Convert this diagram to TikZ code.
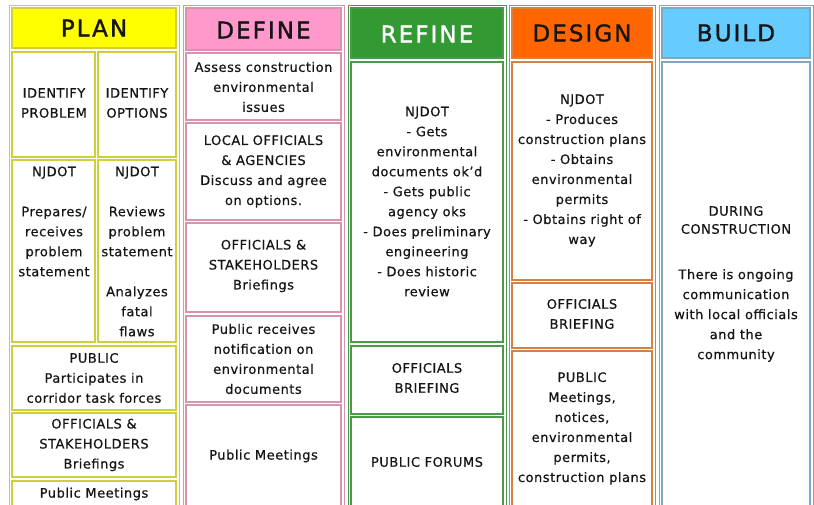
\documentclass[tikz,border=0pt]{standalone}
\usepackage{fontspec}
\setmainfont{DejaVu Sans}[LetterSpace=4, FakeBold=0.6]
\newfontfamily\headfont{DejaVu Sans}[LetterSpace=9, FakeBold=1.4]
\definecolor{planfill}{HTML}{FFFF00}
\definecolor{planline}{HTML}{CFCF3A}
\definecolor{definefill}{HTML}{FF99CC}
\definecolor{defineline}{HTML}{D993AE}
\definecolor{refinefill}{HTML}{339933}
\definecolor{refineline}{HTML}{4A9A4A}
\definecolor{designfill}{HTML}{FF6600}
\definecolor{designline}{HTML}{D9803F}
\definecolor{buildfill}{HTML}{66CCFF}
\definecolor{buildline}{HTML}{7FA7C0}
\definecolor{textgray}{HTML}{151515}
\tikzset{cell/.style={line width=1.4pt}}
\tikzset{outer/.style={line width=0.8pt}}
\tikzset{txt/.style={align=center, inner sep=0pt, text=textgray, font=\fontsize{13}{20}\selectfont}}
\tikzset{head/.style={inner sep=0pt, text=textgray, font=\headfont\fontsize{23}{23}\selectfont}}

\begin{document}
\begin{tikzpicture}[x=1pt,y=-1pt]

\useasboundingbox (0,0) rectangle (814,505);
\clip (0,0) rectangle (814,505);

% PLAN
\draw[outer, planline] (9,5) rectangle (179,515);
\draw[cell, planline, fill=planfill] (12,8) rectangle (176,48);
\draw[cell, planline] (12,52) rectangle (95,157);
\draw[cell, planline] (98,52) rectangle (176,157);
\draw[cell, planline] (12,160) rectangle (95,342);
\draw[cell, planline] (98,160) rectangle (176,342);
\draw[cell, planline] (12,346) rectangle (176,410);
\draw[cell, planline] (12,413) rectangle (176,477);
\draw[cell, planline] (12,481) rectangle (176,515);

\node[head] (plan) at (94,28) {PLAN};
\node[txt] (idprob) at (54,103) {IDENTIFY\\PROBLEM};
\node[txt] (idopt) at (137,103) {IDENTIFY\\OPTIONS};
\node[txt] (planprep) at (54,221.5) {NJDOT\\[20pt]Prepares/\\receives\\problem\\statement};
\node[txt] (planrev) at (137,251.5) {NJDOT\\[20pt]Reviews\\problem\\statement\\[20pt]Analyzes\\fatal\\flaws};
\node[txt] (planpub) at (94,378) {PUBLIC\\Participates in\\corridor task forces};
\node[txt] (planoff) at (94,445) {OFFICIALS \&\\STAKEHOLDERS\\Briefings};
\node[txt] (planmeet) at (94,494) {Public Meetings};

% DEFINE
\draw[outer, defineline] (183,5) rectangle (344,515);
\draw[cell, defineline, fill=definefill] (186,8) rectangle (341,50);
\draw[cell, defineline] (186,53) rectangle (341,120);
\draw[cell, defineline] (186,123) rectangle (341,220);
\draw[cell, defineline] (186,223) rectangle (341,312);
\draw[cell, defineline] (186,316) rectangle (341,402);
\draw[cell, defineline] (186,405) rectangle (341,515);

\node[head] (define) at (263.5,30) {DEFINE};
\node[txt] (defassess) at (263.5,87) {Assess construction\\environmental\\issues};
\node[txt] (deflocal) at (263.5,171.5) {LOCAL OFFICIALS\\\& AGENCIES\\Discuss and agree\\on options.};
\node[txt] (defoff) at (263.5,266) {OFFICIALS \&\\STAKEHOLDERS\\Briefings};
\node[txt] (defnotif) at (263.5,359) {Public receives\\notification on\\environmental\\documents};
\node[txt] (defmeet) at (263.5,456) {Public Meetings};

% REFINE
\draw[outer, refineline] (348,5) rectangle (506,515);
\draw[cell, refineline, fill=refinefill] (351,8) rectangle (503,58);
\draw[cell, refineline] (351,62) rectangle (503,342);
\draw[cell, refineline] (351,346) rectangle (503,414);
\draw[cell, refineline] (351,417) rectangle (503,515);

\node[head, text=white] (refine) at (427,34) {REFINE};
\node[txt] (refnjdot) at (427,201.5) {NJDOT\\- Gets\\environmental\\documents ok'd\\- Gets public\\agency oks\\- Does preliminary\\engineering\\- Does historic\\review};
\node[txt] (refbrief) at (427,378) {OFFICIALS\\BRIEFING};
\node[txt] (refforum) at (427,462) {PUBLIC FORUMS};

% DESIGN
\draw[outer, designline] (509,5) rectangle (655,515);
\draw[cell, designline, fill=designfill] (512,8) rectangle (652,58);
\draw[cell, designline] (512,62) rectangle (652,280);
\draw[cell, designline] (512,283) rectangle (652,348);
\draw[cell, designline] (512,351) rectangle (652,515);

\node[head] (design) at (582,33) {DESIGN};
\node[txt] (desnjdot) at (582,170.5) {NJDOT\\- Produces\\construction plans\\- Obtains\\environmental\\permits\\- Obtains right of\\way};
\node[txt] (desbrief) at (582,314) {OFFICIALS\\BRIEFING};
\node[txt] (despub) at (582,428.5) {PUBLIC\\Meetings,\\notices,\\environmental\\permits,\\construction plans};

% BUILD
\draw[outer, buildline] (659,5) rectangle (813,515);
\draw[cell, buildline, fill=buildfill] (662,8) rectangle (810,58);
\draw[cell, buildline] (662,62) rectangle (810,515);

\node[head] (build) at (736,33) {BUILD};
\node[txt, font=\fontsize{13}{18}\selectfont] (bldduring) at (736,220) {DURING\\CONSTRUCTION};
\node[txt] (bldongoing) at (736,315.5) {There is ongoing\\communication\\with local officials\\and the\\community};

\end{tikzpicture}
\end{document}
